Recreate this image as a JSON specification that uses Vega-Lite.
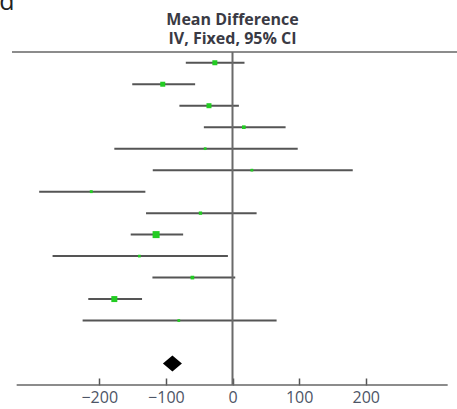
{
  "$schema": "https://vega.github.io/schema/vega-lite/v6.json",
  "width": 445,
  "height": 333,
  "autosize": {"type": "none"},
  "padding": {"left": 12, "top": 52, "right": 0, "bottom": 24},
  "background": "white",
  "config": {"view": {"stroke": null}, "font": "Open Sans"},
  "title": {
    "text": "Mean Difference",
    "subtitle": "IV, Fixed, 95% CI",
    "anchor": "middle",
    "dx": -2,
    "offset": -57,
    "font": "Open Sans",
    "fontSize": 16,
    "fontWeight": "bold",
    "color": "#3a3a44",
    "subtitleFont": "Open Sans",
    "subtitleFontSize": 16,
    "subtitleFontWeight": "bold",
    "subtitleColor": "#3a3a44",
    "subtitlePadding": 3
  },
  "data": {
    "values": [
      {"study": 1, "md": -26.5, "lo": -70.1, "hi": 18.0, "weight": 10.2, "kind": "study"},
      {"study": 2, "md": -104.7, "lo": -150.5, "hi": -56.1, "weight": 10.2, "kind": "study"},
      {"study": 3, "md": -35.3, "lo": -79.7, "hi": 9.6, "weight": 10.2, "kind": "study"},
      {"study": 4, "md": 17.0, "lo": -43.0, "hi": 79.7, "weight": 5.5, "kind": "study"},
      {"study": 5, "md": -41.0, "lo": -177.4, "hi": 97.9, "weight": 3.0, "kind": "study"},
      {"study": 6, "md": 29.1, "lo": -119.7, "hi": 180.5, "weight": 3.0, "kind": "study"},
      {"study": 7, "md": -212.0, "lo": -290.2, "hi": -130.8, "weight": 3.5, "kind": "study"},
      {"study": 8, "md": -48.1, "lo": -129.8, "hi": 36.2, "weight": 4.5, "kind": "study"},
      {"study": 9, "md": -114.7, "lo": -152.8, "hi": -74.1, "weight": 20.0, "kind": "study"},
      {"study": 10, "md": -139.8, "lo": -270.1, "hi": -6.9, "weight": 3.0, "kind": "study"},
      {"study": 11, "md": -60.2, "lo": -120.2, "hi": 4.1, "weight": 5.5, "kind": "study"},
      {"study": 12, "md": -177.4, "lo": -216.5, "hi": -135.8, "weight": 14.7, "kind": "study"},
      {"study": 13, "md": -80.6, "lo": -225.0, "hi": 66.2, "weight": 3.0, "kind": "study"},
      {"study": 15, "md": -90.2, "lo": -102.2, "hi": -74.6, "weight": 100, "kind": "total"}
    ]
  },
  "layer": [
    {
      "transform": [{"filter": "datum.kind === 'study'"}],
      "mark": {"type": "rule", "color": "#555", "strokeWidth": 2},
      "encoding": {
        "x": {
          "field": "lo",
          "type": "quantitative",
          "scale": {"domain": [-331, 337], "nice": false, "zero": false},
          "axis": {"values": [-200, -100, 0, 100, 200], "domain": false, "grid": false, "title": null, "tickSize": -7, "tickWidth": 1.5, "tickColor": "#555", "labelPadding": 11, "labelFont": "Open Sans", "labelFontSize": 16, "labelColor": "#4d5566"}
        },
        "x2": {"field": "hi"},
        "y": {
          "field": "study",
          "type": "quantitative",
          "scale": {"domain": [0.5, 16], "reverse": true, "nice": false, "zero": false},
          "axis": null
        }
      }
    },
    {
      "transform": [{"filter": "datum.kind === 'total'"}],
      "mark": {"type": "rule", "color": "#666", "strokeWidth": 1.5},
      "encoding": {"y": {"datum": 0.5, "type": "quantitative", "axis": null}}
    },
    {
      "transform": [{"filter": "datum.kind === 'total'"}],
      "mark": {"type": "rule", "color": "#666", "strokeWidth": 1.5},
      "encoding": {
        "x": {"datum": -324, "type": "quantitative", "axis": {"values": [-200, -100, 0, 100, 200], "domain": false, "grid": false, "title": null, "tickSize": -7, "tickWidth": 1.5, "tickColor": "#555", "labelPadding": 11, "labelFont": "Open Sans", "labelFontSize": 16, "labelColor": "#4d5566"}},
        "x2": {"datum": 323},
        "y": {"datum": 16, "type": "quantitative", "axis": null}
      }
    },
    {
      "transform": [{"filter": "datum.kind === 'total'"}],
      "mark": {"type": "rule", "color": "#6a6a6a", "strokeWidth": 2},
      "encoding": {
        "x": {"datum": 0, "type": "quantitative", "axis": {"values": [-200, -100, 0, 100, 200], "domain": false, "grid": false, "title": null, "tickSize": -7, "tickWidth": 1.5, "tickColor": "#555", "labelPadding": 11, "labelFont": "Open Sans", "labelFontSize": 16, "labelColor": "#4d5566"}},
        "y": {"datum": 0.5, "type": "quantitative", "axis": null},
        "y2": {"datum": 16}
      }
    },
    {
      "transform": [{"filter": "datum.kind === 'study'"}],
      "mark": {"type": "point", "shape": "square", "filled": true, "color": "#22cc22", "opacity": 1},
      "encoding": {
        "x": {"field": "md", "type": "quantitative", "axis": {"values": [-200, -100, 0, 100, 200], "domain": false, "grid": false, "title": null, "tickSize": -7, "tickWidth": 1.5, "tickColor": "#555", "labelPadding": 11, "labelFont": "Open Sans", "labelFontSize": 16, "labelColor": "#4d5566"}},
        "y": {"field": "study", "type": "quantitative", "axis": null},
        "size": {"field": "weight", "type": "quantitative", "scale": {"domain": [0, 20], "range": [0, 49], "zero": true}, "legend": null}
      }
    },
    {
      "transform": [{"filter": "datum.kind === 'total'"}],
      "mark": {"type": "point", "shape": "M-1,0L0,-0.85L1,0L0,0.85Z", "filled": true, "color": "#000", "opacity": 1, "size": 361},
      "encoding": {
        "x": {"field": "md", "type": "quantitative", "axis": {"values": [-200, -100, 0, 100, 200], "domain": false, "grid": false, "title": null, "tickSize": -7, "tickWidth": 1.5, "tickColor": "#555", "labelPadding": 11, "labelFont": "Open Sans", "labelFontSize": 16, "labelColor": "#4d5566"}},
        "y": {"field": "study", "type": "quantitative", "axis": null}
      }
    },
    {
      "transform": [{"filter": "datum.kind === 'total'"}],
      "mark": {"type": "text", "fontSize": 25, "align": "left", "baseline": "alphabetic", "color": "#222", "font": "Open Sans"},
      "encoding": {
        "x": {"datum": -350, "type": "quantitative", "axis": {"values": [-200, -100, 0, 100, 200], "domain": false, "grid": false, "title": null, "tickSize": -7, "tickWidth": 1.5, "tickColor": "#555", "labelPadding": 11, "labelFont": "Open Sans", "labelFontSize": 16, "labelColor": "#4d5566"}},
        "y": {"datum": -1.45, "type": "quantitative", "axis": null},
        "text": {"value": "d"}
      }
    }
  ]
}
